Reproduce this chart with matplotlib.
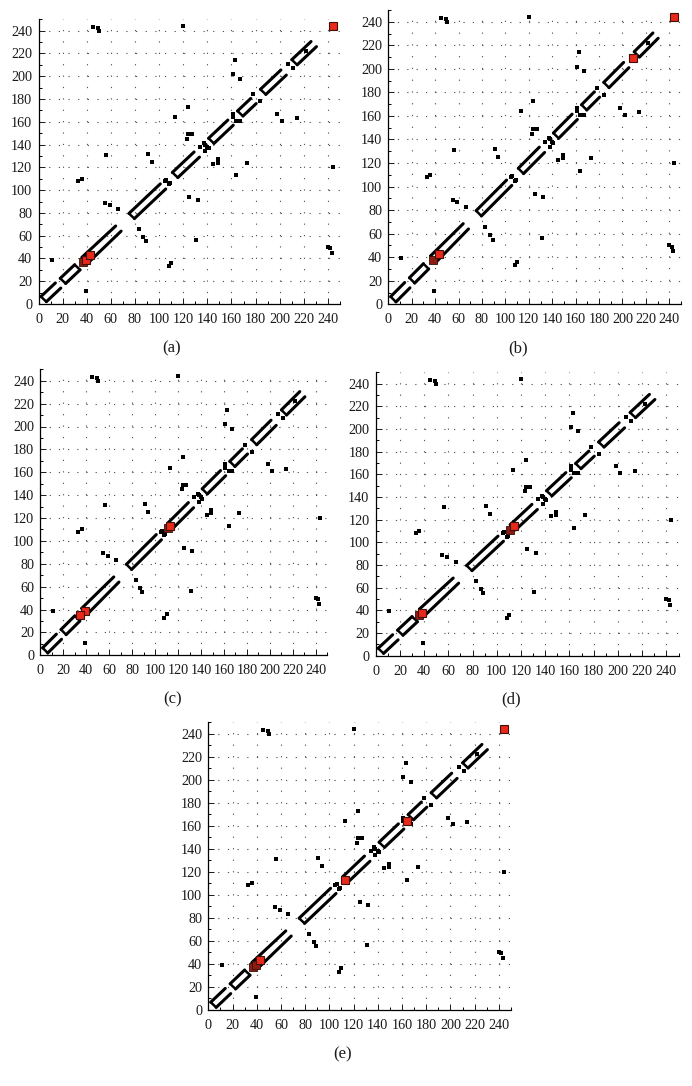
import matplotlib
matplotlib.use("Agg")
import matplotlib.pyplot as plt

W, H = 692, 1086
plt.rcParams['font.family'] = ['Liberation Serif', 'DejaVu Serif']

# panel data ------------------------------------------------------------
captions = ['(a)', '(b)', '(c)', '(d)', '(e)']
tick_values = list(range(0, 241, 20))

# isolated contacts (i, j); each is shown on both sides of the diagonal
contacts_i = [11, 33, 36, 45, 49, 50, 55, 56, 59, 66, 91, 94, 113, 120, 123, 124, 127, 124, 161, 163, 167,
              134, 137, 138, 161, 161, 178, 207, 105, 106, 222]
contacts_j = [39, 108, 110, 243, 242, 240, 89, 131, 87, 83, 132, 125, 164, 244, 145, 149, 149, 173, 202, 214, 198,
              138, 141, 140, 167, 164, 184, 211, 108, 109, 222]

# helix strands: start and end of the upper strand (x, y); mirrored below the diagonal
strand_x0 = [2, 18, 36, 75, 111, 141, 165, 184, 210]
strand_y0 = [6.5, 22.5, 41, 79.5, 115.5, 145.5, 169.5, 188.5, 214.5]
strand_x1 = [14, 30, 64, 101, 129, 157, 176, 201, 226]
strand_y1 = [18.5, 34.5, 68.5, 105.5, 133.5, 161.5, 180.5, 205.5, 230.5]

# whether a strand pair is closed at its far end
closed_end = [False, True, False, False, False, False, False, False, False]

# red highlighted residues for each panel
red_a = [244, 39, 43]
dark_a = [37]
red_b = [244, 209, 43]
dark_b = [38]
red_c = [113, 39, 35]
dark_c = [111]
red_d = [114, 38]
dark_d = [111, 36]
red_e = [244, 164, 113, 43]
dark_e = [37, 39]
reds = [red_a, red_b, red_c, red_d, red_e]
darks = [dark_a, dark_b, dark_c, dark_d, dark_e]

# axes geometry in pixels: left, right (x=250), bottom (y=0), top (y=250)
boxes = [(38.5, 340.0, 304.0, 19.3),
         (388.3, 681.0, 304.3, 10.0),
         (40.3, 327.3, 655.3, 369.3),
         (375.7, 678.5, 655.7, 372.3),
         (208.3, 511.0, 1009.7, 722.0)]
caption_xy = [(172, 348), (518, 348), (173, 699), (511, 699), (343, 1054)]

fig = plt.figure(figsize=(W / 100, H / 100), dpi=100)

for n, (l, r, b, t) in enumerate(boxes):
    ax = fig.add_axes([l / W, 1 - b / H, (r - l) / W, (b - t) / H])
    ax.set_xlim(0, 250)
    ax.set_ylim(0, 250)
    for s in ('top', 'right'):
        ax.spines[s].set_visible(False)
    for s in ('left', 'bottom'):
        ax.spines[s].set_linewidth(0.9)
    ax.set_xticks(tick_values)
    ax.set_yticks(tick_values)
    ax.set_xticks([v + 10 for v in tick_values], minor=True)
    ax.set_yticks([v + 10 for v in tick_values], minor=True)
    ax.tick_params(axis='both', which='major', direction='in', length=4.5, width=0.7,
                   labelsize=10.2, colors='#1a1a1a')
    ax.tick_params(axis='x', which='major', pad=6.5)
    ax.tick_params(axis='y', which='major', pad=4.5)
    ax.tick_params(axis='both', which='minor', direction='in', length=2.5, width=0.7)

    # dotted grid: dash period derived from the panel scale
    grid_lw = 0.8
    h_period = 8 * (r - l) / 250 * 0.72 / grid_lw
    v_period = 10 * (b - t) / 250 * 0.72 / grid_lw
    ax.grid(True, axis='y', which='major', color='#555555', lw=grid_lw, ls=(0, (1.1, h_period - 1.1)))
    ax.grid(True, axis='x', which='major', color='#555555', lw=grid_lw, ls=(0, (1.1, v_period - 1.1)))
    ax.set_axisbelow(True)

    for k, (x0, y0, x1, y1) in enumerate(zip(strand_x0, strand_y0, strand_x1, strand_y1)):
        ax.plot([x0, x1], [y0, y1], color='black', lw=2.2, solid_capstyle='round', zorder=3, clip_on=False)
        ax.plot([y0, y1], [x0, x1], color='black', lw=2.2, solid_capstyle='round', zorder=3, clip_on=False)
        ax.plot([x0, y0], [y0, x0], color='black', lw=1.8, solid_capstyle='round', zorder=3, clip_on=False)
        if closed_end[k]:
            ax.plot([x1, y1], [y1, x1], color='black', lw=1.8, solid_capstyle='round', zorder=3, clip_on=False)

    ax.plot(contacts_i + contacts_j, contacts_j + contacts_i, ls='none', marker='s', ms=2.2,
            color='black', mew=0, zorder=4)
    ax.plot(darks[n], darks[n], ls='none', marker='s', ms=5.2, mfc='#8c1c12', mec='#301008',
            mew=0.6, zorder=5, clip_on=False)
    ax.plot(reds[n], reds[n], ls='none', marker='s', ms=5.4, mfc='#e8281a', mec='#401008',
            mew=0.8, zorder=6, clip_on=False)

    fig.text(caption_xy[n][0] / W, 1 - caption_xy[n][1] / H, captions[n], fontsize=12,
             ha='center', va='center', color='#1a1a1a')

fig.savefig('out.png', dpi=100)
